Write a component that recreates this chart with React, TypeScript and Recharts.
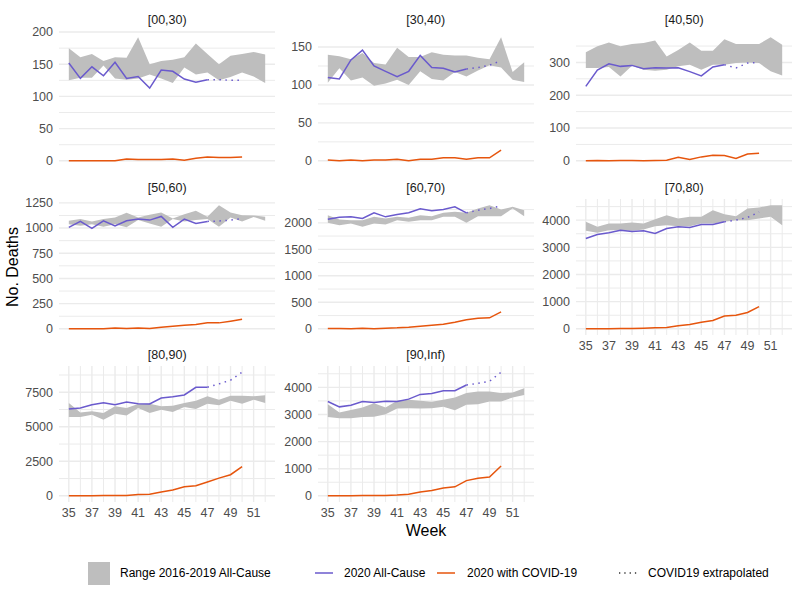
import React from 'react';
import { ComposedChart, Area, Line, XAxis, YAxis, CartesianGrid } from 'recharts';

const FONT = '"Liberation Sans", Arial, Helvetica, sans-serif';
const PURPLE = '#6A5ACD';
const ORANGE = '#E6550D';
const RIBBON = '#BEBEBE';
const GRID = '#EBEBEB';

const weeks = [35, 36, 37, 38, 39, 40, 41, 42, 43, 44, 45, 46, 47, 48, 49, 50, 51, 52];
const weekTicks = [35, 37, 39, 41, 43, 45, 47, 49, 51];
const weekMinor = [36, 38, 40, 42, 44, 46, 48, 50, 52];

// [00,30)
const lo00 = [125, 129, 129, 148, 128, 126, 128, 134, 128, 121, 145, 134, 137, 125, 130, 137, 131, 121];
const hi00 = [175, 161, 166, 155, 161, 160, 192, 150, 155, 157, 161, 182, 166, 150, 163, 166, 169, 165];
const all00 = [152, 128, 146, 132, 153, 128, 131, 113, 141, 139, 127, 122, 126];
const ext00 = [126, 126, 125, 125];
const covid00 = [0, 0, 0, 0, 0, 3, 2, 2, 2, 3, 1, 4, 6, 5, 5, 6];

// [30,40)
const lo30 = [103, 122, 106, 110, 99, 102, 107, 100, 118, 108, 106, 117, 111, 119, 126, 123, 107, 104];
const hi30 = [140, 138, 134, 142, 129, 127, 149, 137, 137, 143, 140, 139, 139, 136, 134, 163, 117, 130];
const all30 = [110, 108, 133, 146, 125, 118, 111, 118, 139, 123, 122, 117, 121];
const ext30 = [121, 123, 126, 132];
const covid30 = [1, 0, 1, 0, 1, 1, 2, 0, 2, 2, 4, 4, 2, 4, 4, 14];

// [40,50)
const lo40 = [283, 283, 286, 257, 290, 278, 275, 278, 288, 293, 278, 293, 293, 298, 300, 298, 273, 260];
const hi40 = [331, 349, 361, 349, 356, 359, 367, 318, 338, 361, 336, 336, 371, 356, 356, 356, 377, 354];
const all40 = [227, 277, 296, 288, 291, 281, 284, 283, 284, 272, 259, 286, 293];
const ext40 = [293, 283, 298, 300];
const covid40 = [0, 1, 0, 1, 1, 0, 1, 2, 11, 4, 12, 17, 16, 7, 21, 23];

// [50,60)
const lo50 = [1039, 1023, 1039, 1013, 1039, 1007, 1079, 1046, 1013, 1089, 1066, 1079, 1089, 1013, 1105, 1066, 1110, 1072];
const hi50 = [1072, 1089, 1066, 1089, 1105, 1151, 1105, 1132, 1155, 1095, 1138, 1171, 1112, 1227, 1155, 1128, 1125, 1112];
const all50 = [1007, 1066, 997, 1072, 1020, 1072, 1089, 1079, 1115, 1007, 1089, 1046, 1066];
const ext50 = [1066, 1070, 1078, 1095];
const covid50 = [0, 0, 0, 0, 7, 3, 7, 3, 16, 26, 36, 43, 59, 59, 76, 95];

// [60,70)
const lo60 = [2000, 1956, 1987, 1925, 1987, 1969, 2050, 2019, 2050, 2050, 2113, 2113, 2000, 2126, 2126, 2126, 2270, 2126];
const hi60 = [2145, 2063, 2050, 2050, 2113, 2082, 2113, 2094, 2145, 2126, 2189, 2208, 2189, 2270, 2333, 2252, 2302, 2239];
const all60 = [2069, 2107, 2113, 2082, 2189, 2113, 2157, 2189, 2264, 2226, 2252, 2302, 2189];
const ext60 = [2189, 2239, 2270, 2320];
const covid60 = [5, 6, 3, 10, 3, 13, 19, 31, 50, 69, 88, 126, 170, 201, 208, 320];

// [70,80)
const lo70 = [3607, 3534, 3632, 3632, 3607, 3656, 3779, 3816, 3779, 3779, 3877, 3877, 3939, 4000, 4000, 4061, 4123, 3816];
const hi70 = [3939, 3755, 3877, 3877, 3914, 3877, 4037, 4184, 4061, 4123, 4123, 4368, 4221, 4147, 4429, 4466, 4552, 4552];
const all70 = [3325, 3472, 3534, 3632, 3583, 3607, 3509, 3693, 3755, 3730, 3840, 3840, 3939];
const ext70 = [3939, 4000, 4100, 4300];
const covid70 = [0, 5, 5, 10, 10, 25, 40, 50, 110, 160, 245, 305, 470, 500, 600, 820];

// [80,90)
const lo80 = [5704, 5704, 5874, 5510, 5947, 5825, 6359, 5995, 6238, 6068, 6432, 6286, 6675, 6553, 6893, 6675, 6966, 6723];
const hi80 = [6723, 6044, 6117, 5995, 6481, 6359, 6650, 6675, 6481, 6529, 6723, 6893, 7209, 6966, 7257, 7257, 7209, 7282];
const all80 = [6286, 6359, 6602, 6748, 6602, 6796, 6675, 6650, 7087, 7184, 7306, 7864, 7864];
const ext80 = [7864, 8107, 8374, 8956];
const covid80 = [0, 0, 10, 20, 30, 30, 100, 120, 270, 420, 650, 730, 1000, 1280, 1530, 2120];

// [90,Inf)
const lo90 = [2907, 2857, 2857, 2907, 2919, 3006, 3217, 3230, 3217, 3230, 3280, 3155, 3354, 3379, 3478, 3478, 3627, 3714];
const hi90 = [3379, 3068, 3168, 3255, 3416, 3255, 3503, 3540, 3503, 3466, 3540, 3627, 3789, 3851, 3851, 3789, 3814, 3963];
const all90 = [3478, 3280, 3342, 3478, 3441, 3491, 3478, 3565, 3739, 3776, 3876, 3876, 4087];
const ext90 = [4087, 4149, 4224, 4559];
const covid90 = [0, 0, 0, 10, 10, 15, 30, 60, 140, 200, 290, 330, 560, 650, 690, 1100];

const panels = [
  { title: '[00,30)', lo: lo00, hi: hi00, all: all00, ext: ext00, covid: covid00, ticks: [0, 50, 100, 150, 200], col: 0, row: 0, showX: false },
  { title: '[30,40)', lo: lo30, hi: hi30, all: all30, ext: ext30, covid: covid30, ticks: [0, 50, 100, 150], col: 1, row: 0, showX: false },
  { title: '[40,50)', lo: lo40, hi: hi40, all: all40, ext: ext40, covid: covid40, ticks: [0, 100, 200, 300], col: 2, row: 0, showX: false },
  { title: '[50,60)', lo: lo50, hi: hi50, all: all50, ext: ext50, covid: covid50, ticks: [0, 250, 500, 750, 1000, 1250], col: 0, row: 1, showX: false },
  { title: '[60,70)', lo: lo60, hi: hi60, all: all60, ext: ext60, covid: covid60, ticks: [0, 500, 1000, 1500, 2000], col: 1, row: 1, showX: false },
  { title: '[70,80)', lo: lo70, hi: hi70, all: all70, ext: ext70, covid: covid70, ticks: [0, 1000, 2000, 3000, 4000], col: 2, row: 1, showX: true },
  { title: '[80,90)', lo: lo80, hi: hi80, all: all80, ext: ext80, covid: covid80, ticks: [0, 2500, 5000, 7500], col: 0, row: 2, showX: true },
  { title: '[90,Inf)', lo: lo90, hi: hi90, all: all90, ext: ext90, covid: covid90, ticks: [0, 1000, 2000, 3000, 4000], col: 1, row: 2, showX: true },
];

const PLOT_W = 216;
const PLOT_H = 136;
const colLeft = [59.2, 317.7, 576.2];
const rowTop = [31, 199, 366];
const Y_W = 50;
const X_H = 24;
const PAD = 5;

const tickStyle = { fontSize: 12.5, fill: '#4D4D4D', fontFamily: FONT };

function Panel({ p }: { p: any }) {
  const data = weeks.map((week, i) => ({
    week,
    range: [p.lo[i], p.hi[i]],
    all: i < p.all.length ? p.all[i] : null,
    ext: i >= 12 && i < 12 + p.ext.length ? p.ext[i - 12] : null,
    covid: i < p.covid.length ? p.covid[i] : null,
  }));
  const maxV = Math.max(...p.hi, ...p.all, ...p.ext, ...p.covid);
  const domain = [-0.05 * maxV, 1.05 * maxV];
  const step = p.ticks[1] - p.ticks[0];
  const minorY = p.ticks.map((t: number) => t + step / 2).filter((v: number) => v < domain[1]);

  return (
    <div style={{ position: 'absolute', left: colLeft[p.col] - Y_W, top: rowTop[p.row] - PAD }}>
      <ComposedChart
        width={PLOT_W + Y_W + PAD}
        height={PLOT_H + PAD + X_H}
        data={data}
        margin={{ top: PAD, right: PAD, bottom: 0, left: 0 }}
      >
        <CartesianGrid stroke={GRID} strokeWidth={1} horizontalValues={minorY} verticalValues={weekMinor} />
        <CartesianGrid stroke={GRID} strokeWidth={1.4} horizontalValues={p.ticks} verticalValues={weekTicks} />
        <XAxis
          dataKey="week"
          type="number"
          domain={[34.15, 52.85]}
          ticks={weekTicks}
          interval={0}
          height={X_H}
          axisLine={false}
          tickLine={false}
          tickSize={0}
          tickMargin={6}
          tick={p.showX ? tickStyle : false}
          allowDataOverflow
        />
        <YAxis
          type="number"
          domain={domain}
          ticks={p.ticks}
          interval={0}
          width={Y_W}
          axisLine={false}
          tickLine={false}
          tickSize={0}
          tickMargin={6}
          tick={tickStyle}
          allowDataOverflow
        />
        <Area dataKey="range" type="linear" fill={RIBBON} fillOpacity={1} stroke="none" dot={false} activeDot={false} isAnimationActive={false} />
        <Line dataKey="all" type="linear" stroke={PURPLE} strokeWidth={1.5} dot={false} activeDot={false} isAnimationActive={false} />
        <Line dataKey="covid" type="linear" stroke={ORANGE} strokeWidth={1.5} dot={false} activeDot={false} isAnimationActive={false} />
        <Line dataKey="ext" type="linear" stroke={PURPLE} strokeWidth={1.5} strokeDasharray="1.5 4.5" dot={false} activeDot={false} isAnimationActive={false} />
      </ComposedChart>
    </div>
  );
}

const legendText = { position: 'absolute' as const, top: 565, fontSize: 12, lineHeight: '16px', color: '#000', whiteSpace: 'nowrap' as const };

export default function App() {
  return (
    <div style={{ position: 'absolute', left: 0, top: 0, width: 800, height: 600, background: '#fff', fontFamily: FONT }}>
      {panels.map((p) => (
        <React.Fragment key={p.title}>
          <div
            style={{
              position: 'absolute',
              left: colLeft[p.col] + PLOT_W / 2,
              top: rowTop[p.row] - 19,
              transform: 'translateX(-50%)',
              fontSize: 12.5,
              lineHeight: '16px',
              color: '#1A1A1A',
              whiteSpace: 'nowrap',
            }}
          >
            {p.title}
          </div>
          <Panel p={p} />
        </React.Fragment>
      ))}

      <div
        style={{
          position: 'absolute',
          left: 13,
          top: 267,
          transform: 'translate(-50%, -50%) rotate(-90deg)',
          fontSize: 16,
          whiteSpace: 'nowrap',
          color: '#000',
        }}
      >
        No. Deaths
      </div>
      <div
        style={{
          position: 'absolute',
          left: 426,
          top: 531,
          transform: 'translate(-50%, -50%)',
          fontSize: 16,
          whiteSpace: 'nowrap',
          color: '#000',
        }}
      >
        Week
      </div>

      {/* legend */}
      <div style={{ position: 'absolute', left: 88, top: 562, width: 22, height: 23, background: RIBBON }} />
      <div style={{ ...legendText, left: 120 }}>Range 2016-2019 All-Cause</div>
      <svg style={{ position: 'absolute', left: 315, top: 566 }} width={18} height={14}>
        <line x1={0} y1={7} x2={18} y2={7} stroke={PURPLE} strokeWidth={1.5} />
      </svg>
      <div style={{ ...legendText, left: 344 }}>2020 All-Cause</div>
      <svg style={{ position: 'absolute', left: 437, top: 566 }} width={18} height={14}>
        <line x1={0} y1={7} x2={18} y2={7} stroke={ORANGE} strokeWidth={1.5} />
      </svg>
      <div style={{ ...legendText, left: 467 }}>2020 with COVID-19</div>
      <svg style={{ position: 'absolute', left: 618, top: 566 }} width={20} height={14}>
        <line x1={1} y1={7} x2={20} y2={7} stroke="#333" strokeWidth={1.3} strokeDasharray="1.3 4" />
      </svg>
      <div style={{ ...legendText, left: 648 }}>COVID19 extrapolated</div>
    </div>
  );
}
